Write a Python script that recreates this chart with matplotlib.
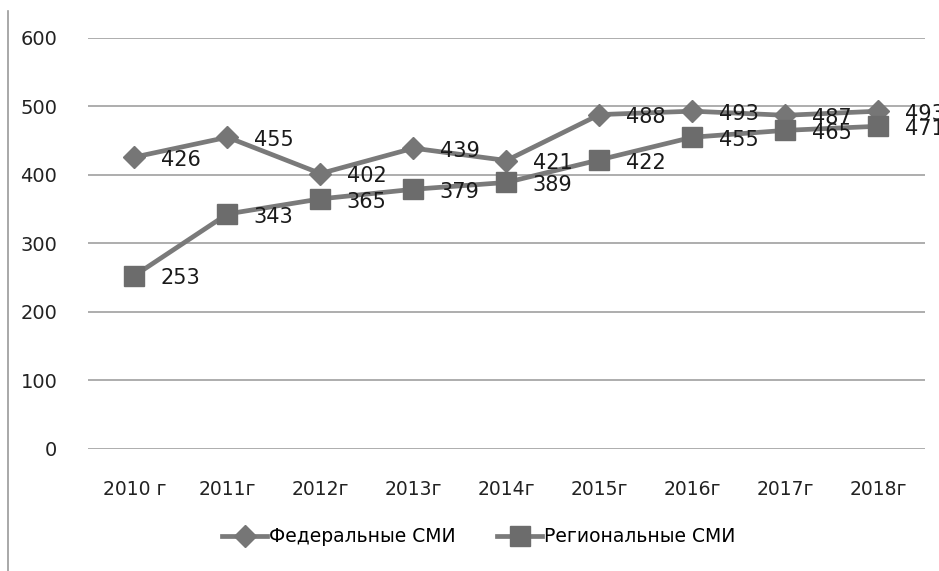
import matplotlib.pyplot as plt
from matplotlib.lines import Line2D

# Data
years = ["2010 г", "2011г", "2012г", "2013г", "2014г", "2015г", "2016г", "2017г", "2018г"]
federal = [426, 455, 402, 439, 421, 488, 493, 487, 493]
regional = [253, 343, 365, 379, 389, 422, 455, 465, 471]

fig = plt.figure(figsize=(9.39, 5.71), dpi=100)
ax = fig.add_axes([0.0937, 0.2137, 0.8913, 0.72])

x = range(len(years))
line_color = "#7a7a7a"

ax.plot(x, federal, color=line_color, linewidth=3.4, marker="D", markersize=11,
        markerfacecolor="#767676", markeredgecolor="#767676", label="Федеральные СМИ", zorder=3)
ax.plot(x, regional, color=line_color, linewidth=3.4, marker="s", markersize=14,
        markerfacecolor="#6c6c6c", markeredgecolor="#6c6c6c", label="Региональные СМИ", zorder=3)

# Data labels to the right of each point
for series in (federal, regional):
    for i, v in enumerate(series):
        ax.annotate(str(v), (i, v), xytext=(19, -2), textcoords="offset points",
                    ha="left", va="center", fontsize=15, color="#1a1a1a",
                    clip_on=False, annotation_clip=False, zorder=4)

ax.set_xlim(-0.5, len(years) - 0.5)
ax.set_ylim(0, 600)
ax.set_yticks(range(0, 601, 100))
ax.set_xticks(list(x))
ax.set_xticklabels(years, fontsize=13.5)
ax.tick_params(axis="y", labelsize=14, length=0, pad=22, colors="#222222")
ax.tick_params(axis="x", length=0, pad=22, colors="#222222")

ax.grid(axis="y", color="#adadad", linewidth=1.4)
ax.set_axisbelow(True)
for s in ax.spines.values():
    s.set_visible(False)

# thin border line at the left edge of the picture
fig.add_artist(Line2D([0.0085, 0.0085], [0.0, 0.98], transform=fig.transFigure,
                      color="#9a9a9a", linewidth=1.2))

leg = fig.legend(loc="center", bbox_to_anchor=(0.51, 0.06), ncol=2, frameon=False,
                 prop={"size": 13.5},
                 handlelength=2.4, columnspacing=2.2, handletextpad=0.1)

fig.savefig("out.png", dpi=100)
